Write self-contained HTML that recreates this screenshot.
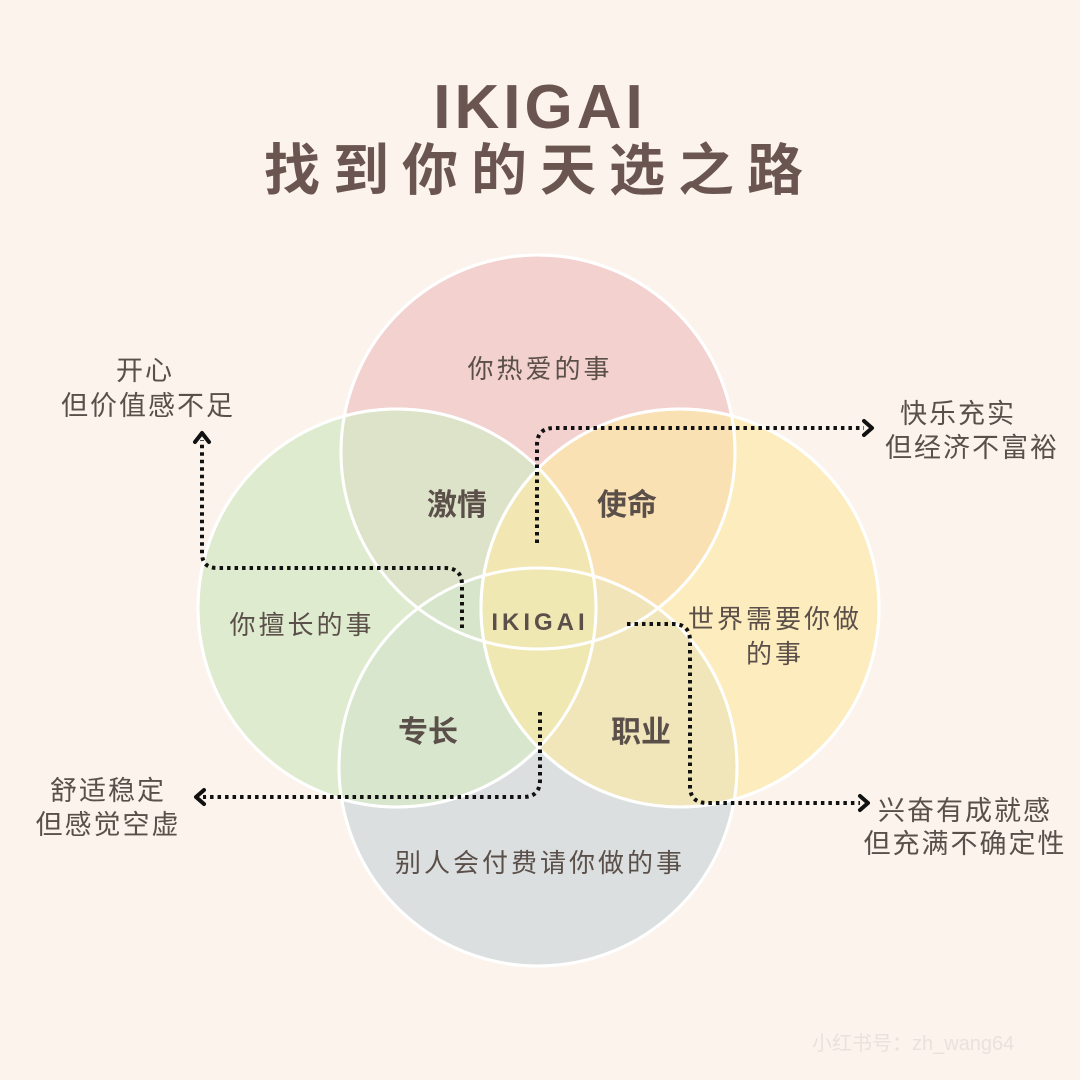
<!DOCTYPE html>
<html><head><meta charset="utf-8"><style>
html,body{margin:0;padding:0;background:#fbf3ec;}
svg{display:block}
text{font-family:"Liberation Sans","Noto Sans CJK SC",sans-serif;fill:#5b4f4a;}
</style></head><body>
<svg width="1080" height="1080" viewBox="0 0 1080 1080" xmlns="http://www.w3.org/2000/svg">
<rect width="1080" height="1080" fill="#fbf3ec"/>
<text x="540" y="128" text-anchor="middle" font-size="62" font-weight="bold" style="fill:#6a5551" letter-spacing="4">IKIGAI</text>
<text x="540" y="190" text-anchor="middle" font-size="56" font-weight="bold" style="fill:#6a5551" letter-spacing="13">找到你的天选之路</text>

<g stroke="#ffffff" stroke-width="3">
<circle cx="538" cy="452" r="197" fill="#f0caca" fill-opacity="0.85"/>
<circle cx="538" cy="767" r="199" fill="#d5dadd" fill-opacity="0.85"/>
<circle cx="397" cy="608" r="199" fill="#d6e8c6" fill-opacity="0.75"/>
<circle cx="680" cy="608" r="199" fill="#fde9a6" fill-opacity="0.65"/>
</g>
<g fill="none" stroke="#ffffff" stroke-width="3">
<circle cx="538" cy="452" r="197"/>
<circle cx="538" cy="767" r="199"/>
<circle cx="397" cy="608" r="199"/>
<circle cx="680" cy="608" r="199"/>
</g>

<g fill="none" stroke="#111" stroke-width="4" stroke-dasharray="3.5 4">
<path d="M462 628 V585 Q462 568 445 568 H217 Q202 568 202 553 V440"/>
<path d="M537 543 V445 Q537 428 554 428 H864"/>
<path d="M627 624 H673 Q690 624 690 641 V786 Q690 803 707 803 H860"/>
<path d="M540 712 V780 Q540 797 523 797 H203"/>
</g>
<g fill="none" stroke="#111" stroke-width="4" stroke-linecap="round" stroke-linejoin="round">
<path d="M195 442 L202 433 L209 442"/>
<path d="M864 421 L872 428 L864 435"/>
<path d="M860 796 L868 803 L860 810"/>
<path d="M204 790 L196 797 L204 804"/>
</g>

<g font-size="26" text-anchor="middle" letter-spacing="3">
<text x="540" y="378">你热爱的事</text>
<text x="302" y="634">你擅长的事</text>
<text x="775" y="628">世界需要你做</text>
<text x="775" y="663">的事</text>
<text x="540" y="872">别人会付费请你做的事</text>
</g>
<g font-size="30" font-weight="bold" text-anchor="middle">
<text x="457" y="515">激情</text>
<text x="627" y="515">使命</text>
<text x="428" y="742">专长</text>
<text x="641" y="742">职业</text>
</g>
<text x="540" y="630" font-size="24" font-weight="bold" text-anchor="middle" letter-spacing="4">IKIGAI</text>

<g font-size="27" text-anchor="middle" letter-spacing="2">
<text x="145" y="380">开心</text>
<text x="148" y="415">但价值感不足</text>
<text x="958" y="423">快乐充实</text>
<text x="972" y="457">但经济不富裕</text>
<text x="108" y="800">舒适稳定</text>
<text x="108" y="834">但感觉空虚</text>
<text x="965" y="820">兴奋有成就感</text>
<text x="965" y="853">但充满不确定性</text>
</g>
<text x="812" y="1050" font-size="20" style="fill:#e9e2dc">小红书号：zh_wang64</text>
</svg>
</body></html>
